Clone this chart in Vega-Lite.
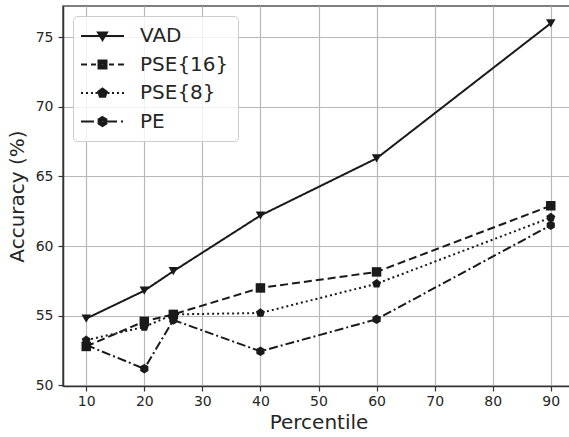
{
  "$schema": "https://vega.github.io/schema/vega-lite/v6.json",
  "width": 511,
  "height": 380,
  "autosize": "none",
  "padding": {"left": 63, "top": 6, "right": 0, "bottom": 51},
  "background": "white",
  "config": {
    "font": "DejaVu Sans",
    "view": {"stroke": "#555555", "strokeWidth": 1.5},
    "axis": {
      "labelFontSize": 14,
      "labelColor": "#262626",
      "titleFontSize": 20,
      "titleFontWeight": "normal",
      "titleColor": "#262626",
      "tickColor": "#333333",
      "tickSize": 5,
      "tickWidth": 1.2,
      "domainColor": "#333333",
      "domainWidth": 1.5,
      "grid": true,
      "gridColor": "#b8b8b8",
      "gridWidth": 1.2
    },
    "legend": {
      "title": null,
      "orient": "none",
      "legendX": 10,
      "legendY": 10,
      "labelFontSize": 20,
      "labelColor": "#262626",
      "symbolSize": 400,
      "labelOffset": 36,
      "rowPadding": 7.5,
      "padding": 9,
      "fillColor": "rgba(255,255,255,0.8)",
      "strokeColor": "#cccccc",
      "cornerRadius": 4,
      "symbolStrokeWidth": 2,
      "symbolOpacity": 1,
      "symbolStrokeColor": "#1a1a1a"
    }
  },
  "datasets": {
    "points": [
      {"p": 10, "s": "VAD", "acc": 54.8},
      {"p": 20, "s": "VAD", "acc": 56.8},
      {"p": 25, "s": "VAD", "acc": 58.2},
      {"p": 40, "s": "VAD", "acc": 62.2},
      {"p": 60, "s": "VAD", "acc": 66.3},
      {"p": 90, "s": "VAD", "acc": 76.0},
      {"p": 10, "s": "PSE{16}", "acc": 52.8},
      {"p": 20, "s": "PSE{16}", "acc": 54.6},
      {"p": 25, "s": "PSE{16}", "acc": 55.1},
      {"p": 40, "s": "PSE{16}", "acc": 57.0},
      {"p": 60, "s": "PSE{16}", "acc": 58.15},
      {"p": 90, "s": "PSE{16}", "acc": 62.9},
      {"p": 10, "s": "PSE{8}", "acc": 53.25},
      {"p": 20, "s": "PSE{8}", "acc": 54.2},
      {"p": 25, "s": "PSE{8}", "acc": 55.1},
      {"p": 40, "s": "PSE{8}", "acc": 55.2},
      {"p": 60, "s": "PSE{8}", "acc": 57.3},
      {"p": 90, "s": "PSE{8}", "acc": 62.05},
      {"p": 10, "s": "PE", "acc": 52.9},
      {"p": 20, "s": "PE", "acc": 51.2},
      {"p": 25, "s": "PE", "acc": 54.7},
      {"p": 40, "s": "PE", "acc": 52.45},
      {"p": 60, "s": "PE", "acc": 54.75},
      {"p": 90, "s": "PE", "acc": 61.5}
    ],
    "series": [
      {"name": "VAD"},
      {"name": "PSE{16}"},
      {"name": "PSE{8}"},
      {"name": "PE"}
    ]
  },
  "data": {"name": "points"},
  "layer": [
    {
      "mark": {"type": "line", "strokeWidth": 2, "color": "#1a1a1a"},
      "encoding": {
        "x": {
          "field": "p",
          "type": "quantitative",
          "scale": {"domain": [6, 94], "nice": false, "zero": false},
          "axis": {"title": "Percentile", "values": [10, 20, 30, 40, 50, 60, 70, 80, 90], "labelPadding": 3, "titlePadding": 4}
        },
        "y": {
          "field": "acc",
          "type": "quantitative",
          "scale": {"domain": [49.96, 77.24], "nice": false, "zero": false},
          "axis": {"title": "Accuracy (%)", "values": [50, 55, 60, 65, 70, 75], "labelPadding": 5, "titlePadding": 8}
        },
        "strokeDash": {
          "field": "s",
          "type": "nominal",
          "scale": {"domain": ["VAD", "PSE{16}", "PSE{8}", "PE"], "range": [[1, 0], [8, 4], [2, 3], [9, 3, 2, 3]]},
          "legend": null
        }
      }
    },
    {
      "mark": {"type": "point", "filled": true, "opacity": 1, "size": 90, "color": "#1a1a1a"},
      "encoding": {
        "x": {"field": "p", "type": "quantitative"},
        "y": {"field": "acc", "type": "quantitative"},
        "shape": {
          "field": "s",
          "type": "nominal",
          "scale": {
            "domain": ["VAD", "PSE{16}", "PSE{8}", "PE"],
            "range": [
              "triangle-down",
              "square",
              "M0,-1L0.951,-0.309L0.588,0.809L-0.588,0.809L-0.951,-0.309Z",
              "M0,-1L0.866,-0.5L0.866,0.5L0,1L-0.866,0.5L-0.866,-0.5Z"
            ]
          },
          "legend": null
        }
      }
    },
    {
      "data": {"name": "series"},
      "mark": {"type": "point", "filled": false, "opacity": 0, "color": "#1a1a1a", "strokeWidth": 2},
      "encoding": {
        "shape": {
          "field": "name",
          "type": "nominal",
          "scale": {
            "domain": ["VAD", "PSE{16}", "PSE{8}", "PE"],
            "range": [
              "M-1.2,0H3.1M0.5,-0.35H1.4L0.95,0.4ZM0.653,-0.265H1.247L0.95,0.23ZM0.801,-0.183H1.099L0.95,0.065Z",
              "M-1.2,0H-0.6M-0.2,0H0.3M0.55,-0.4H1.35V0.4H0.55ZM0.68,-0.27H1.22V0.27H0.68ZM0.82,-0.13H1.08V0.13H0.82ZM1.6,0H2.1M2.5,0H3.1",
              "M-1.2,0H-1.0M-0.7,0H-0.5M-0.2,0H0M0.25,0H0.45M1.45,0H1.65M1.9,0H2.1M2.4,0H2.6M2.9,0H3.1M0.95,-0.45L1.378,-0.139L1.215,0.364L0.685,0.364L0.522,-0.139ZM0.95,-0.3L1.235,-0.093L1.126,0.243L0.774,0.243L0.665,-0.093ZM0.95,-0.15L1.093,-0.046L1.038,0.121L0.862,0.121L0.807,-0.046Z",
              "M-1.2,0H0.1M1.45,0H2.4M2.8,0H3.0M0.95,-0.45L1.34,-0.225L1.34,0.225L0.95,0.45L0.56,0.225L0.56,-0.225ZM0.95,-0.3L1.21,-0.15L1.21,0.15L0.95,0.3L0.69,0.15L0.69,-0.15ZM0.95,-0.15L1.08,-0.075L1.08,0.075L0.95,0.15L0.82,0.075L0.82,-0.075Z"
            ]
          },
          "legend": {"symbolStrokeColor": "#1a1a1a", "symbolStrokeWidth": 2, "symbolOpacity": 1}
        }
      }
    }
  ],
  "resolve": {"scale": {"shape": "independent"}, "legend": {"shape": "independent"}}
}
